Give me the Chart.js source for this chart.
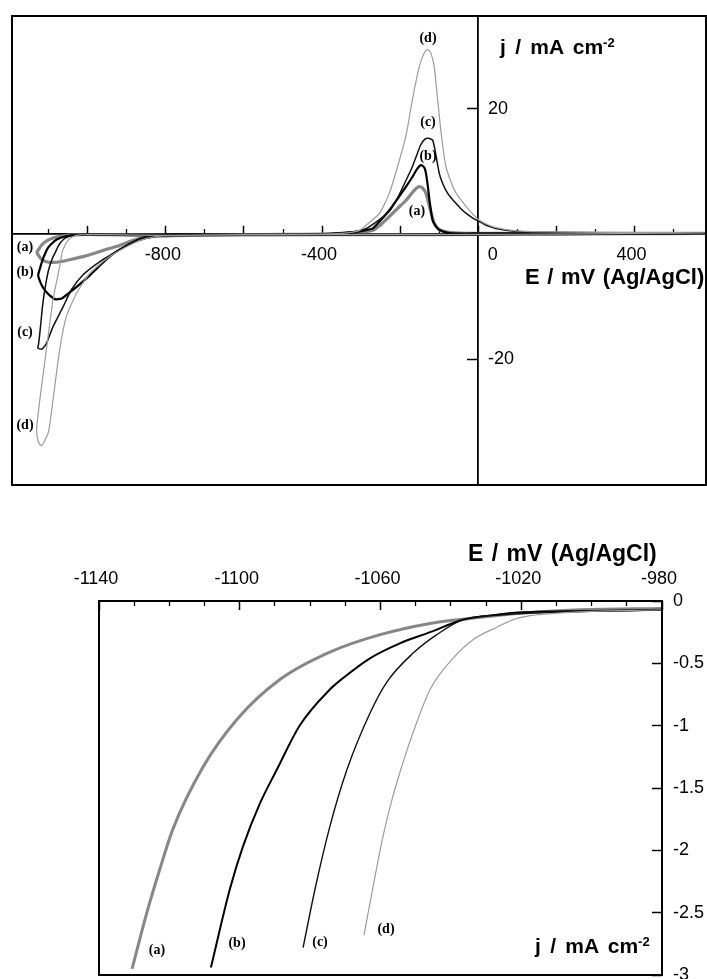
<!DOCTYPE html>
<html>
<head>
<meta charset="utf-8">
<script src="https://cdn.jsdelivr.net/npm/chart.js"></script>
<style>
html,body{margin:0;padding:0;background:#fff;width:707px;height:979px;overflow:hidden;position:relative;}
canvas{position:absolute;left:0;}
#c1{top:0;}
#c2{top:540px;}
.t{position:absolute;font-family:"Liberation Sans",Arial,Helvetica,sans-serif;font-weight:bold;color:#000;white-space:nowrap;line-height:1;}
.t sup{font-size:0.62em;vertical-align:0.55em;line-height:0;}
.lab{position:absolute;font-family:"Liberation Serif","Times New Roman",serif;font-weight:bold;font-size:14px;color:#000;transform:translate(-50%,-50%);line-height:1;white-space:nowrap;}
</style>
</head>
<body>
<canvas id="c1" width="707" height="500"></canvas>
<canvas id="c2" width="707" height="439"></canvas>

<!-- top chart texts -->
<div class="t" style="left:500px;top:36px;font-size:21px;word-spacing:3.5px;">j / mA cm<sup>-2</sup></div>
<div class="t" style="left:525px;top:266px;font-size:22px;word-spacing:1.5px;">E / mV (Ag/AgCl)</div>
<div class="lab" style="left:428px;top:38px;">(d)</div>
<div class="lab" style="left:428px;top:122px;">(c)</div>
<div class="lab" style="left:428px;top:156px;">(b)</div>
<div class="lab" style="left:417px;top:211px;">(a)</div>
<div class="lab" style="left:25px;top:247px;">(a)</div>
<div class="lab" style="left:25px;top:272px;">(b)</div>
<div class="lab" style="left:25px;top:332px;">(c)</div>
<div class="lab" style="left:25px;top:425px;">(d)</div>

<!-- bottom chart texts -->
<div class="t" style="left:468px;top:542px;font-size:23px;word-spacing:2px;">E / mV (Ag/AgCl)</div>
<div class="t" style="left:535px;top:935px;font-size:21px;word-spacing:3.5px;">j / mA cm<sup>-2</sup></div>
<div class="lab" style="left:157px;top:950px;">(a)</div>
<div class="lab" style="left:237px;top:943px;">(b)</div>
<div class="lab" style="left:320px;top:942px;">(c)</div>
<div class="lab" style="left:386px;top:929px;">(d)</div>

<script>
// ---------------- DATA: top chart (cyclic voltammograms), [E mV, j mA cm-2] ----------------
const cvA = [[580,0.1],[400,0.05],[200,0],[0,-0.05],[-200,-0.1],[-400,-0.1],[-600,-0.15],[-800,-0.2],[-950,-0.1],[-1000,-0.07],
  [-1021,-0.1],[-1035,-0.14],[-1046,-0.18],[-1060,-0.27],[-1074,-0.41],[-1089,-0.63],[-1101,-0.95],[-1111,-1.35],[-1119,-1.83],
  [-1126,-2.5],[-1130,-2.9],[-1124,-3.6],[-1115,-4.2],[-1100,-4.5],[-1080,-4.5],[-1060,-4.3],[-1040,-4.0],[-1012,-3.6],
  [-985,-3.1],[-969,-2.8],[-950,-2.4],[-927,-2.0],[-905,-1.5],[-884,-1.0],[-858,-0.6],[-820,-0.35],[-780,-0.25],[-700,-0.15],
  [-600,-0.1],[-500,-0.05],[-400,0],[-350,0.1],[-300,0.3],[-270,0.6],[-250,1.5],[-228,2.8],[-205,4.2],[-185,5.4],[-164,7.0],
  [-151,7.6],[-142,7.3],[-134,6.5],[-125,4.4],[-113,1.7],[-100,0.7],[-80,0.3],[-50,0.15],[0,0.1],[200,0.1],[400,0.1],[580,0.1]];
const cvB = [[580,0.1],[400,0.05],[200,0],[0,-0.05],[-200,-0.1],[-400,-0.1],[-600,-0.15],[-800,-0.2],[-950,-0.1],[-1000,-0.08],
  [-1019.5,-0.09],[-1027,-0.11],[-1037,-0.15],[-1046,-0.25],[-1054.5,-0.34],[-1063,-0.46],[-1071,-0.62],[-1083,-1.0],[-1089,-1.35],
  [-1094,-1.62],[-1099,-1.97],[-1103,-2.31],[-1108,-2.94],[-1115,-4.0],[-1122,-5.4],[-1127,-6.6],[-1122,-7.6],[-1114,-8.6],
  [-1101,-9.6],[-1084,-10.4],[-1067,-10.3],[-1046,-9.3],[-1020,-8.0],[-995,-6.6],[-969,-5.0],[-944,-3.6],[-927,-2.8],[-900,-1.8],
  [-884,-1.3],[-850,-0.6],[-816,-0.25],[-780,-0.1],[-600,-0.1],[-400,0],[-320,0.3],[-290,0.6],[-270,0.9],[-250,2.2],[-228,3.8],
  [-205,5.8],[-185,7.6],[-170,9.0],[-159,10.2],[-150,10.9],[-145,11.0],[-138,10.6],[-134,9.7],[-129,7.5],[-125,5.4],[-117,2.2],
  [-108,1.2],[-100,0.7],[-74,0.15],[0,0.1],[200,0.1],[400,0.1],[580,0.1]];
const cvC = [[580,0.15],[400,0.1],[200,0],[0,-0.05],[-200,-0.1],[-400,-0.1],[-600,-0.15],[-800,-0.2],[-950,-0.1],[-1000,-0.08],
  [-1025,-0.11],[-1036.6,-0.15],[-1044,-0.27],[-1050.8,-0.42],[-1058,-0.65],[-1063,-0.9],[-1069.5,-1.35],[-1074.4,-1.81],
  [-1078.6,-2.31],[-1082,-2.78],[-1090,-3.8],[-1101,-5.9],[-1110,-8.9],[-1116,-11.6],[-1121,-14.8],[-1126,-17.6],[-1128,-18.2],
  [-1118,-18.4],[-1106,-17.5],[-1089,-14.8],[-1063,-11.6],[-1042,-8.9],[-1012,-6.5],[-969,-4.4],[-927,-2.8],[-884,-1.2],
  [-850,-0.4],[-800,-0.15],[-600,-0.1],[-400,0],[-330,0.3],[-290,0.8],[-260,2.0],[-228,3.6],[-205,6.0],[-185,8.6],[-170,10.6],
  [-159,12.4],[-148,14.2],[-138,15.1],[-128,15.3],[-117,15.0],[-112,13.8],[-108,12.4],[-100,9.7],[-92,8.2],[-83,7.0],[-70,5.8],
  [-57,4.9],[-44,4.0],[-31,3.3],[-15,2.6],[3,2.0],[20,1.4],[45,0.9],[87,0.5],[150,0.3],[300,0.2],[580,0.15]];
const cvD = [[580,0.2],[400,0.1],[200,0],[0,-0.05],[-200,-0.1],[-400,-0.1],[-600,-0.15],[-800,-0.2],[-950,-0.1],[-1000,-0.08],
  [-1015,-0.11],[-1021,-0.14],[-1027,-0.21],[-1034,-0.31],[-1039,-0.46],[-1046,-0.71],[-1051,-1.06],[-1054,-1.35],[-1057,-1.59],
  [-1059,-1.89],[-1062,-2.29],[-1065,-2.68],[-1072,-5.2],[-1089,-10.5],[-1106,-18.5],[-1123,-26.6],[-1131,-31.4],[-1126,-33.3],
  [-1118,-33.8],[-1101,-31.7],[-1089,-26.5],[-1072,-18.5],[-1055,-13.2],[-1029,-9.5],[-995,-6.3],[-944,-3.6],[-884,-1.5],
  [-850,-0.7],[-799,-0.2],[-600,-0.1],[-400,0],[-350,0.1],[-304,0.6],[-280,1.8],[-253,3.3],[-228,6.5],[-202,11.8],[-184,16.1],
  [-169,21.4],[-151,26.8],[-138,29.0],[-130,29.5],[-122,29.0],[-113,26.8],[-104,21.4],[-95,16.1],[-83,10.8],[-61,7.0],[-31,4.4],
  [3,2.2],[36,1.2],[87,0.6],[138,0.4],[250,0.3],[400,0.25],[580,0.2]];

// top chart axes
const topRangeE = [-1194, 583];
const topRangeJ = [-40.1, 34.85];
const topMajorE = [-1000, -800, -600, -400, -200, 0, 200, 400];
const topMinorE = [-1100, -900, -700, -500, -300, -100, 100, 300, 500];
const topLabeledE = [-800, -400, 0, 400];
const topTicksJ = [-20, 20];

// ---------------- DATA: bottom chart (cathodic sweeps) ----------------
const lsvA = [[-1130.6,-2.95],[-1126.4,-2.5],[-1122.7,-2.15],[-1119,-1.83],[-1110.4,-1.33],[-1100.8,-0.95],[-1088.6,-0.63],
  [-1074.4,-0.41],[-1060.1,-0.27],[-1045.9,-0.18],[-1034.6,-0.14],[-1021.2,-0.1],[-1003.3,-0.07],[-980,-0.06]];
const lsvB = [[-1108.2,-2.94],[-1102.8,-2.31],[-1099.1,-1.97],[-1094.2,-1.62],[-1089.4,-1.35],[-1083,-1.0],[-1074.4,-0.71],
  [-1070.7,-0.62],[-1063,-0.46],[-1054.5,-0.34],[-1045.9,-0.25],[-1036.6,-0.15],[-1026.9,-0.11],[-1019.5,-0.09],[-1000,-0.08],[-980,-0.07]];
const lsvC = [[-1082,-2.78],[-1078.6,-2.31],[-1074.4,-1.81],[-1069.5,-1.35],[-1063,-0.9],[-1058.2,-0.65],[-1050.8,-0.42],
  [-1044,-0.27],[-1036.6,-0.15],[-1025,-0.11],[-1010,-0.09],[-995,-0.08],[-980,-0.07]];
const lsvD = [[-1064.7,-2.68],[-1062.1,-2.29],[-1059.3,-1.89],[-1056.7,-1.59],[-1054.2,-1.35],[-1050.8,-1.06],[-1045.9,-0.71],
  [-1039.4,-0.46],[-1033.7,-0.31],[-1026.9,-0.21],[-1021.2,-0.14],[-1005,-0.09],[-980,-0.07]];

const botRangeE = [-1140, -980];
const botRangeJ = [-3, 0];
const botMajorE = [-1140, -1100, -1060, -1020, -980];
const botMinorE = [-1130, -1120, -1110, -1090, -1080, -1070, -1050, -1040, -1030, -1010, -1000, -990];
const botTicksJ = [0, -0.5, -1, -1.5, -2, -2.5, -3];

// ---------------- helpers ----------------
Chart.defaults.font.family = '"Liberation Sans", Arial, Helvetica, sans-serif';
Chart.defaults.font.size = 18;
Chart.defaults.color = '#000';

const setTicks = vals => s => { s.ticks = vals.map(v => ({value: v})); };
const fixBox = size => s => {
  if (s.isHorizontal()) s.height = size; else s.width = size;
  s.paddingLeft = 0; s.paddingRight = 0; s.paddingTop = 0; s.paddingBottom = 0;
};
const toXY = arr => arr.map(p => ({x: p[0], y: p[1]}));

const framePlugin = {
  id: 'frame',
  afterDraw(chart) {
    const {ctx, chartArea: a} = chart;
    ctx.save();
    ctx.strokeStyle = '#000';
    ctx.lineWidth = 2;
    ctx.strokeRect(a.left, a.top, a.right - a.left, a.bottom - a.top);
    ctx.restore();
  }
};

const styleA = {borderColor: '#878787', borderWidth: 3.2};
const styleB = {borderColor: '#000', borderWidth: 2.2};
const styleC = {borderColor: '#111', borderWidth: 1.5};
const styleD = {borderColor: '#9c9c9c', borderWidth: 1.2};
const ds = (arr, st, extra) => Object.assign({data: toXY(arr), showLine: true, pointRadius: 0, fill: false}, st, extra);

const common = {
  responsive: false,
  animation: false,
  events: [],
  plugins: {legend: {display: false}, tooltip: {enabled: false}, title: {display: false}}
};

// ---------------- top chart ----------------
const loopOpts = {tension: 0.2};
new Chart(document.getElementById('c1'), {
  type: 'scatter',
  data: {datasets: [ds(cvD, styleD, loopOpts), ds(cvC, styleC, loopOpts), ds(cvB, styleB, loopOpts), ds(cvA, styleA, loopOpts)]},
  plugins: [framePlugin],
  options: Object.assign({}, common, {
    layout: {padding: {left: 12, top: 16, right: 1, bottom: 15}},
    scales: {
      x: {
        type: 'linear', axis: 'x', min: topRangeE[0], max: topRangeE[1], position: {y: 0},
        afterBuildTicks: setTicks(topMajorE), afterFit: fixBox(0),
        grid: {drawOnChartArea: false, tickLength: -9, tickWidth: 1.5, tickColor: '#000'},
        border: {color: '#000', width: 1.8},
        ticks: {padding: 19, autoSkip: false, maxRotation: 0, labelOffset: -3,
          callback: v => topLabeledE.includes(v) ? (v === 0 ? '       0' : String(v)) : ''}
      },
      x2: {
        type: 'linear', axis: 'x', min: topRangeE[0], max: topRangeE[1], position: {y: 0},
        afterBuildTicks: setTicks(topMinorE), afterFit: fixBox(0),
        grid: {drawOnChartArea: false, tickLength: -5, tickWidth: 1.3, tickColor: '#000'},
        border: {display: false},
        ticks: {display: false}
      },
      y: {
        type: 'linear', axis: 'y', min: topRangeJ[0], max: topRangeJ[1], position: {x: 0},
        afterBuildTicks: setTicks(topTicksJ), afterFit: fixBox(0),
        grid: {drawOnChartArea: false, tickLength: 10, tickWidth: 1.5, tickColor: '#000'},
        border: {color: '#000', width: 1.8},
        ticks: {display: false}
      },
      yl: {
        type: 'linear', axis: 'y', min: topRangeJ[0], max: topRangeJ[1], position: 'left',
        afterBuildTicks: setTicks(topTicksJ), afterFit: fixBox(0),
        grid: {display: false, drawTicks: false},
        border: {display: false},
        ticks: {mirror: true, padding: 476, callback: v => String(v)}
      }
    }
  })
});

// ---------------- bottom chart ----------------
const sweepOpts = {cubicInterpolationMode: 'monotone'};
new Chart(document.getElementById('c2'), {
  type: 'scatter',
  data: {datasets: [
    ds(lsvD, styleD, sweepOpts),
    ds(lsvC, {borderColor: '#111', borderWidth: 1.4}, sweepOpts),
    ds(lsvB, {borderColor: '#000', borderWidth: 2}, sweepOpts),
    ds(lsvA, {borderColor: '#878787', borderWidth: 3}, sweepOpts)]},
  plugins: [framePlugin],
  options: Object.assign({}, common, {
    layout: {padding: {left: 99, top: 21, right: 0, bottom: 4}},
    scales: {
      x: {
        type: 'linear', axis: 'x', min: botRangeE[0], max: botRangeE[1], position: 'top', weight: 1,
        afterBuildTicks: setTicks(botMajorE), afterFit: fixBox(40),
        grid: {drawOnChartArea: false, tickLength: -9, tickWidth: 1.5, tickColor: '#000'},
        border: {display: false},
        ticks: {padding: 20, autoSkip: false, maxRotation: 0, labelOffset: -3, callback: v => String(v)}
      },
      x2: {
        type: 'linear', axis: 'x', min: botRangeE[0], max: botRangeE[1], position: 'top', weight: 0,
        afterBuildTicks: setTicks(botMinorE), afterFit: fixBox(0),
        grid: {drawOnChartArea: false, tickLength: -5, tickWidth: 1.3, tickColor: '#000'},
        border: {display: false},
        ticks: {display: false}
      },
      y: {
        type: 'linear', axis: 'y', min: botRangeJ[0], max: botRangeJ[1], position: 'right',
        afterBuildTicks: setTicks(botTicksJ), afterFit: fixBox(45),
        grid: {drawOnChartArea: false, tickLength: -10, tickWidth: 1.5, tickColor: '#000'},
        border: {display: false},
        ticks: {padding: 21, autoSkip: false, callback: v => String(v)}
      }
    }
  })
});
</script>
</body>
</html>
